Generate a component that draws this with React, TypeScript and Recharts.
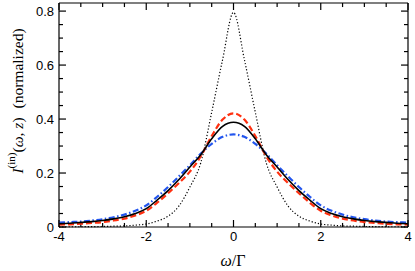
import React from "react";
import { LineChart, Line, XAxis, YAxis, ReferenceLine } from "recharts";

// omega / Gamma sample points
const omega = [
  -4, -3.75, -3.5, -3.25, -3, -2.75, -2.5, -2.25, -2, -1.75, -1.5, -1.25, -1, -0.75, -0.5, -0.25,
  0, 0.25, 0.5, 0.75, 1, 1.25, 1.5, 1.75, 2, 2.25, 2.5, 2.75, 3, 3.25, 3.5, 3.75, 4,
];

// black solid
const solidBlack = [
  0.012, 0.014, 0.017, 0.02, 0.024, 0.03, 0.038, 0.05, 0.068, 0.1, 0.135, 0.176, 0.222, 0.268, 0.327, 0.373,
  0.388, 0.373, 0.327, 0.268, 0.222, 0.176, 0.135, 0.1, 0.068, 0.05, 0.038, 0.03, 0.024, 0.02, 0.017, 0.014, 0.012,
];

// red dashed
const dashedRed = [
  0.009, 0.01, 0.012, 0.015, 0.018, 0.024, 0.031, 0.043, 0.06, 0.09, 0.125, 0.163, 0.205, 0.262, 0.337, 0.398,
  0.421, 0.398, 0.337, 0.262, 0.205, 0.163, 0.125, 0.09, 0.06, 0.043, 0.031, 0.024, 0.018, 0.015, 0.012, 0.01, 0.009,
];

// blue dash-dot
const dashDotBlue = [
  0.016, 0.018, 0.02, 0.024, 0.029, 0.036, 0.046, 0.06, 0.08, 0.112, 0.148, 0.188, 0.229, 0.272, 0.308, 0.334,
  0.343, 0.334, 0.308, 0.272, 0.229, 0.188, 0.148, 0.112, 0.08, 0.06, 0.046, 0.036, 0.029, 0.024, 0.02, 0.018, 0.016,
];

// black dotted (input)
const dottedBlack = [
  0.0005, 0.001, 0.001, 0.0015, 0.002, 0.003, 0.004, 0.007, 0.011, 0.022, 0.04, 0.078, 0.148, 0.238, 0.425, 0.62,
  0.795, 0.62, 0.425, 0.238, 0.148, 0.078, 0.04, 0.022, 0.011, 0.007, 0.004, 0.003, 0.002, 0.0015, 0.001, 0.001, 0.0005,
];

const xTicks = [-4, -3.5, -3, -2.5, -2, -1.5, -1, -0.5, 0, 0.5, 1, 1.5, 2, 2.5, 3, 3.5, 4];
const xLabels = [-4, -2, 0, 2, 4];
const yTicks = [0, 0.05, 0.1, 0.15, 0.2, 0.25, 0.3, 0.35, 0.4, 0.45, 0.5, 0.55, 0.6, 0.65, 0.7, 0.75, 0.8];
const yLabels = [0, 0.2, 0.4, 0.6, 0.8];

const X_MIN = -4;
const X_MAX = 4;
const Y_MIN = 0;
const Y_MAX = 0.83;

const data = omega.map((w, i) => ({
  w,
  solid: solidBlack[i],
  red: dashedRed[i],
  blue: dashDotBlue[i],
  dotted: dottedBlack[i],
}));

const sans = "'Liberation Sans', Arial, sans-serif";
const serif = "'Liberation Serif', 'Times New Roman', serif";

// tick mark lengths in axis units (about 7px major, 4px minor)
const X_TICK_LEN = { major: 0.026, minor: 0.015 };
const Y_TICK_LEN = { major: 0.16, minor: 0.092 };

const isIn = (arr: number[], v: number) => arr.some((a) => Math.abs(a - v) < 1e-9);

function BottomLabel(props: any) {
  const { x, y, payload } = props;
  if (!isIn(xLabels, payload.value)) return <g />;
  return (
    <text x={x} y={y + 14} textAnchor="middle" fontFamily={sans} fontSize={13} fill="#000">
      {String(payload.value)}
    </text>
  );
}

function LeftLabel(props: any) {
  const { x, y, payload } = props;
  if (!isIn(yLabels, payload.value)) return <g />;
  return (
    <text x={x - 5} y={y + 5} textAnchor="end" fontFamily={sans} fontSize={13} fill="#000">
      {payload.value === 0 ? "0" : payload.value.toFixed(1)}
    </text>
  );
}

function Titles() {
  const cx = 17;
  const cy = 101;
  return (
    <svg width={415} height={271} style={{ position: "absolute", left: 0, top: 0, pointerEvents: "none" }}>
      <text x={233} y={266} textAnchor="middle" fontFamily={serif} fontSize={16} fill="#000">
        <tspan fontStyle="italic">ω</tspan>
        <tspan>/Γ</tspan>
      </text>
      <text
        x={cx}
        y={cy}
        transform={`rotate(-90 ${cx} ${cy})`}
        textAnchor="middle"
        dominantBaseline="central"
        fontFamily={serif}
        fontSize={15.5}
        fill="#000"
      >
        <tspan fontStyle="italic">I</tspan>
        <tspan fontSize={11} dy={-6}>(in)</tspan>
        <tspan dy={6}>(</tspan>
        <tspan fontStyle="italic">ω</tspan>
        <tspan>, </tspan>
        <tspan fontStyle="italic">z</tspan>
        <tspan>)</tspan>
        <tspan dx={9}>(normalized)</tspan>
      </text>
    </svg>
  );
}

const tickStroke = { stroke: "#000", strokeWidth: 1.2 };

export default function App() {
  const xMarks = xTicks.map((t) => {
    const len = isIn(xLabels, t) ? X_TICK_LEN.major : X_TICK_LEN.minor;
    return (
      <React.Fragment key={`x${t}`}>
        <ReferenceLine
          segment={[{ x: t, y: Y_MIN }, { x: t, y: Y_MIN + len }]}
          ifOverflow="visible"
          {...tickStroke}
        />
        <ReferenceLine
          segment={[{ x: t, y: Y_MAX }, { x: t, y: Y_MAX - len }]}
          ifOverflow="visible"
          {...tickStroke}
        />
      </React.Fragment>
    );
  });
  const yMarks = yTicks.map((t) => {
    const len = isIn(yLabels, t) ? Y_TICK_LEN.major : Y_TICK_LEN.minor;
    return (
      <React.Fragment key={`y${t}`}>
        <ReferenceLine
          segment={[{ x: X_MIN, y: t }, { x: X_MIN + len, y: t }]}
          ifOverflow="visible"
          {...tickStroke}
        />
        <ReferenceLine
          segment={[{ x: X_MAX, y: t }, { x: X_MAX - len, y: t }]}
          ifOverflow="visible"
          {...tickStroke}
        />
      </React.Fragment>
    );
  });

  return (
    <div style={{ position: "absolute", left: 0, top: 0, width: 415, height: 271, background: "#fff" }}>
      <LineChart width={415} height={271} data={data} margin={{ top: 2, right: 6, left: 0, bottom: 0 }}>
        <XAxis
          dataKey="w"
          type="number"
          domain={[X_MIN, X_MAX]}
          ticks={xTicks}
          interval={0}
          height={44}
          tickSize={0}
          tickMargin={0}
          tick={<BottomLabel />}
          axisLine={{ stroke: "#000", strokeWidth: 1.2 }}
          tickLine={false}
        />
        <XAxis
          xAxisId="top"
          orientation="top"
          dataKey="w"
          type="number"
          domain={[X_MIN, X_MAX]}
          ticks={xTicks}
          height={1}
          tick={false}
          axisLine={{ stroke: "#000", strokeWidth: 1.2 }}
          tickLine={false}
        />
        <YAxis
          type="number"
          domain={[Y_MIN, Y_MAX]}
          ticks={yTicks}
          interval={0}
          width={59}
          tickSize={0}
          tickMargin={0}
          tick={<LeftLabel />}
          axisLine={{ stroke: "#000", strokeWidth: 1.2 }}
          tickLine={false}
        />
        <YAxis
          yAxisId="right"
          orientation="right"
          type="number"
          domain={[Y_MIN, Y_MAX]}
          ticks={yTicks}
          width={1}
          tick={false}
          axisLine={{ stroke: "#000", strokeWidth: 1.2 }}
          tickLine={false}
        />
        {xMarks}
        {yMarks}
        <Line
          type="monotone"
          dataKey="dotted"
          stroke="#000"
          strokeWidth={1.2}
          strokeDasharray="1.2 2"
          dot={false}
          isAnimationActive={false}
        />
        <Line
          type="monotone"
          dataKey="blue"
          stroke="#2255ee"
          strokeWidth={2.2}
          strokeDasharray="6 2.5 1.5 2.5"
          dot={false}
          isAnimationActive={false}
        />
        <Line
          type="monotone"
          dataKey="red"
          stroke="#ff3010"
          strokeWidth={2.2}
          strokeDasharray="6 3"
          dot={false}
          isAnimationActive={false}
        />
        <Line
          type="monotone"
          dataKey="solid"
          stroke="#000"
          strokeWidth={1.6}
          dot={false}
          isAnimationActive={false}
        />
      </LineChart>
      <Titles />
    </div>
  );
}
